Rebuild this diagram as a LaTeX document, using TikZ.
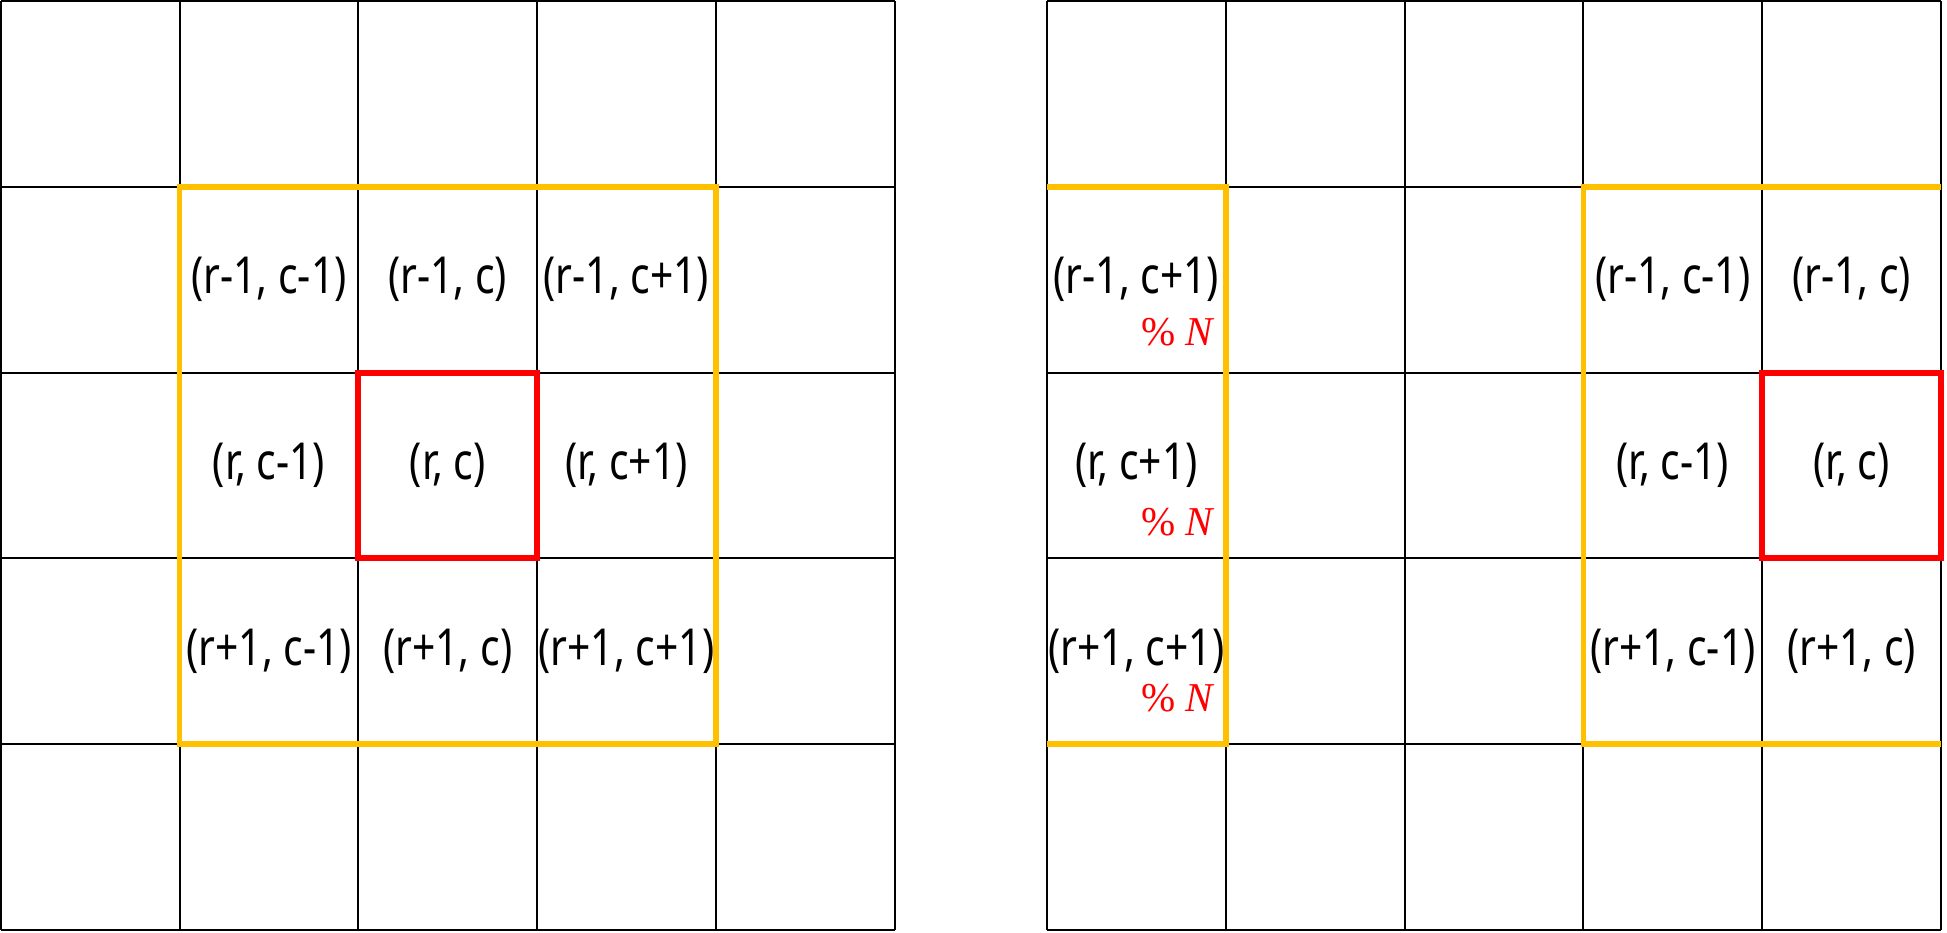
\documentclass[tikz,border=0pt]{standalone}
\usepackage{fontspec}
\setmainfont[FakeStretch=0.8]{Noto Sans}
\newfontfamily\modfont{Liberation Serif}
\definecolor{gold}{HTML}{FFC000}
\definecolor{hot}{HTML}{FF0000}
\begin{document}
\begin{tikzpicture}[x=1pt,y=-1pt,
  gridline/.style={black, line width=2pt},
  hood/.style={gold, line width=5.5pt},
  focus/.style={hot, line width=6pt},
  lbl/.style={font=\fontsize{51}{58}\selectfont, inner sep=0pt, anchor=center},
  modn/.style={text=hot, font=\fontsize{41}{46}\selectfont\modfont, inner sep=0pt, anchor=base east}]
\useasboundingbox (0,0) rectangle (1947,932);
% ---------- left grid ----------
\foreach \i in {0,...,5}
  \draw[gridline] ({1+178.7*\i},1) -- ({1+178.7*\i},930);
\foreach \j in {0,...,5}
  \draw[gridline] (1,{1+185.8*\j}) -- (894.5,{1+185.8*\j});
% ---------- right grid ----------
\foreach \i in {0,...,5}
  \draw[gridline] ({1047+178.8*\i},1) -- ({1047+178.8*\i},930);
\foreach \j in {0,...,5}
  \draw[gridline] (1047,{1+185.8*\j}) -- (1941,{1+185.8*\j});
% ---------- highlight frames ----------
\draw[hood] (179.7,186.8) rectangle (715.8,744.2);
\draw[focus] (358.4,372.6) rectangle (537.1,558.4);
\draw[hood] (1047,186.8) -- (1225.8,186.8) -- (1225.8,744.2) -- (1047,744.2);
\draw[hood] (1941,186.8) -- (1583.4,186.8) -- (1583.4,744.2) -- (1941,744.2);
\draw[focus] (1762.2,372.6) rectangle (1941,558.4);
% ---------- left labels ----------
\node[lbl] (l11) at (269.05,279.7) {(r-1, c-1)};
\node[lbl] (l12) at (447.75,279.7) {(r-1, c)};
\node[lbl] (l13) at (626.45,279.7) {(r-1, c+1)};
\node[lbl] (l21) at (269.05,465.5) {(r, c-1)};
\node[lbl] (l22) at (447.75,465.5) {(r, c)};
\node[lbl] (l23) at (626.45,465.5) {(r, c+1)};
\node[lbl] (l31) at (269.05,651.3) {(r+1, c-1)};
\node[lbl] (l32) at (447.75,651.3) {(r+1, c)};
\node[lbl] (l33) at (626.45,651.3) {(r+1, c+1)};
% ---------- right labels ----------
\node[lbl] (r10) at (1136.4,279.7) {(r-1, c+1)};
\node[lbl] (r20) at (1136.4,465.5) {(r, c+1)};
\node[lbl] (r30) at (1136.4,651.3) {(r+1, c+1)};
\node[lbl] (r13) at (1672.8,279.7) {(r-1, c-1)};
\node[lbl] (r14) at (1851.6,279.7) {(r-1, c)};
\node[lbl] (r23) at (1672.8,465.5) {(r, c-1)};
\node[lbl] (r24) at (1851.6,465.5) {(r, c)};
\node[lbl] (r33) at (1672.8,651.3) {(r+1, c-1)};
\node[lbl] (r34) at (1851.6,651.3) {(r+1, c)};
\node[modn] (m1) at (1215,345) {\%\hspace{0.25em}\textit{N}};
\node[modn] (m2) at (1215,535) {\%\hspace{0.25em}\textit{N}};
\node[modn] (m3) at (1215,711) {\%\hspace{0.25em}\textit{N}};
\end{tikzpicture}
\end{document}
